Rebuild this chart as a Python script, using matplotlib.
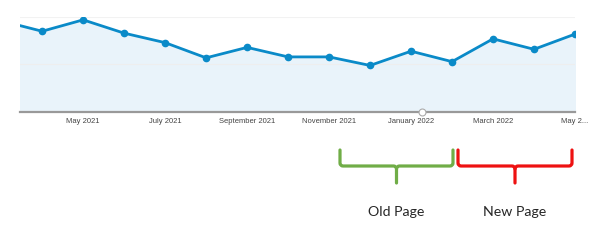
import numpy as np
import matplotlib.pyplot as plt
from matplotlib.path import Path
from matplotlib.patches import PathPatch

# monthly values (relative scale, 0 = axis floor, 100 = top gridline)
months = ['Mar 2021', 'Apr 2021', 'May 2021', 'Jun 2021', 'Jul 2021', 'Aug 2021',
          'Sep 2021', 'Oct 2021', 'Nov 2021', 'Dec 2021', 'Jan 2022', 'Feb 2022',
          'Mar 2022', 'Apr 2022', 'May 2022']
values = [96, 85, 97, 83, 73, 57, 68, 58, 58, 49, 64, 53, 77, 66, 82]
tick_idx = [2, 4, 6, 8, 10, 12, 14]
tick_labels = ['May 2021', 'July 2021', 'September 2021', 'November 2021',
               'January 2022', 'March 2022', 'May 2...']
brace_labels = ['Old Page', 'New Page']
brace_colors = ['#70ad47', '#ee1111']

W, H = 600, 245
fig = plt.figure(figsize=(6, 2.45), dpi=100)

x = np.arange(len(values))
ax = fig.add_axes([20 / W, 1 - 112 / H, 555 / W, 95 / H])
ax.fill_between(x, 0, values, color='#e9f3fa', zorder=1)
ax.plot(x, values, color='#0a8ac8', lw=2, zorder=3)
ax.plot(x[1:], values[1:], 'o', color='#0a8ac8', ms=4.5, zorder=4)
ax.set_xlim(0.46, 14)
ax.set_ylim(0, 100)
ax.axhline(50, color='#eeeeee', lw=0.8, zorder=2)
ax.axhline(100, color='#f2f2f2', lw=0.8, zorder=2)
for s in ['top', 'right', 'left']:
    ax.spines[s].set_visible(False)
ax.spines['bottom'].set_color('#999999')
ax.spines['bottom'].set_linewidth(1.6)
ax.set_yticks([])
ax.set_xticks(tick_idx)
ax.set_xticklabels(tick_labels, fontsize=5.5, color='#444444', family='Liberation Sans')
ax.tick_params(axis='x', length=0, pad=4)
ax.set_facecolor('none')
# small annotation marker on the axis
ax.plot([10.27], [0], 'o', ms=5, mfc='white', mec='#aaaaaa', mew=0.8,
        clip_on=False, zorder=5)

# overlay in pixel coordinates for the braces
ov = fig.add_axes([0, 0, 1, 1])
ov.set_xlim(0, W)
ov.set_ylim(H, 0)
ov.axis('off')


def brace(x0, x1, color, top=150, mid=166, tip=183, r=3):
    xm = (x0 + x1) / 2
    C3, L, M = Path.CURVE3, Path.LINETO, Path.MOVETO
    verts = [(x0, top), (x0, mid - r), (x0, mid), (x0 + r, mid),
             (xm - r, mid), (xm, mid), (xm, mid + r), (xm, tip)]
    codes = [M, L, C3, C3, L, C3, C3, L]
    verts2 = [(x1, top), (x1, mid - r), (x1, mid), (x1 - r, mid),
              (xm + r, mid), (xm, mid), (xm, mid + r)]
    codes2 = [M, L, C3, C3, L, C3, C3]
    for v, c in [(verts, codes), (verts2, codes2)]:
        ov.add_patch(PathPatch(Path(v, c), fill=False, edgecolor=color, lw=2.3,
                               capstyle='round', joinstyle='round'))
    return xm


spans = [(340, 453), (458, 572)]
for (x0, x1), c, lab in zip(spans, brace_colors, brace_labels):
    xm = brace(x0, x1, c)
    ov.text(xm, 212, lab, ha='center', va='center', fontsize=10.2,
            color='#262626', family='Lato')

fig.savefig('out.png', dpi=100)
